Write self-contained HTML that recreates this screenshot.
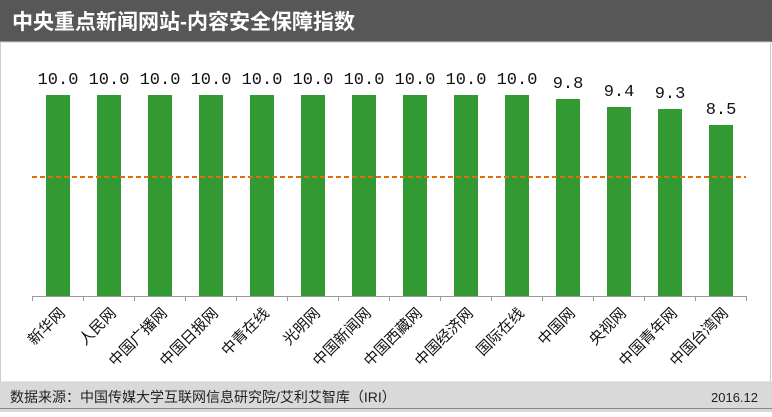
<!DOCTYPE html><html><head><meta charset="utf-8"><style>
body{margin:0;width:772px;height:412px;overflow:hidden;background:#fff;font-family:"Liberation Sans","Noto Sans CJK SC",sans-serif}
</style></head><body>
<svg width="772" height="412" xmlns="http://www.w3.org/2000/svg" font-family="Liberation Sans, Noto Sans CJK SC, sans-serif">
<rect x="0" y="0" width="772" height="42" fill="#575757"/>
<text x="12" y="29" fill="#fff" font-size="21" font-weight="bold">中央重点新闻网站-内容安全保障指数</text>
<rect x="0.5" y="42" width="770" height="340" fill="#fff" stroke="#ccc"/>
<line x1="32" y1="296.5" x2="747" y2="296.5" stroke="#999"/>
<g fill="#339933">
<rect x="46" y="95" width="24" height="201"/>
<rect x="97" y="95" width="24" height="201"/>
<rect x="148" y="95" width="24" height="201"/>
<rect x="199" y="95" width="24" height="201"/>
<rect x="250" y="95" width="24" height="201"/>
<rect x="301" y="95" width="24" height="201"/>
<rect x="352" y="95" width="24" height="201"/>
<rect x="403" y="95" width="24" height="201"/>
<rect x="454" y="95" width="24" height="201"/>
<rect x="505" y="95" width="24" height="201"/>
<rect x="556" y="99" width="24" height="197"/>
<rect x="607" y="107" width="24" height="189"/>
<rect x="658" y="109" width="24" height="187"/>
<rect x="709" y="125" width="24" height="171"/>
</g>
<g font-size="17" text-anchor="middle" fill="#111" font-family="Liberation Mono, monospace">
<text x="58" y="84">10.0</text>
<text x="109" y="84">10.0</text>
<text x="160" y="84">10.0</text>
<text x="211" y="84">10.0</text>
<text x="262" y="84">10.0</text>
<text x="313" y="84">10.0</text>
<text x="364" y="84">10.0</text>
<text x="415" y="84">10.0</text>
<text x="466" y="84">10.0</text>
<text x="517" y="84">10.0</text>
<text x="568" y="88">9.8</text>
<text x="619" y="96">9.4</text>
<text x="670" y="98">9.3</text>
<text x="721" y="114">8.5</text>
</g>
<g stroke="#999">
<line x1="32.5" y1="296" x2="32.5" y2="301"/><line x1="83.5" y1="296" x2="83.5" y2="301"/>
<line x1="134.5" y1="296" x2="134.5" y2="301"/><line x1="185.5" y1="296" x2="185.5" y2="301"/>
<line x1="236.5" y1="296" x2="236.5" y2="301"/><line x1="287.5" y1="296" x2="287.5" y2="301"/>
<line x1="338.5" y1="296" x2="338.5" y2="301"/><line x1="389.5" y1="296" x2="389.5" y2="301"/>
<line x1="440.5" y1="296" x2="440.5" y2="301"/><line x1="491.5" y1="296" x2="491.5" y2="301"/>
<line x1="542.5" y1="296" x2="542.5" y2="301"/><line x1="593.5" y1="296" x2="593.5" y2="301"/>
<line x1="644.5" y1="296" x2="644.5" y2="301"/><line x1="695.5" y1="296" x2="695.5" y2="301"/>
<line x1="746.5" y1="296" x2="746.5" y2="301"/>
</g>
<line x1="32" y1="177" x2="746" y2="177" stroke="#e46c0a" stroke-width="2" stroke-dasharray="5,3"/>
<g font-size="15" text-anchor="end" fill="#111">
<text transform="translate(66,314) rotate(-45)">新华网</text>
<text transform="translate(117,314) rotate(-45)">人民网</text>
<text transform="translate(168,314) rotate(-45)">中国广播网</text>
<text transform="translate(219,314) rotate(-45)">中国日报网</text>
<text transform="translate(270,314) rotate(-45)">中青在线</text>
<text transform="translate(321,314) rotate(-45)">光明网</text>
<text transform="translate(372,314) rotate(-45)">中国新闻网</text>
<text transform="translate(423,314) rotate(-45)">中国西藏网</text>
<text transform="translate(474,314) rotate(-45)">中国经济网</text>
<text transform="translate(525,314) rotate(-45)">国际在线</text>
<text transform="translate(576,314) rotate(-45)">中国网</text>
<text transform="translate(627,314) rotate(-45)">央视网</text>
<text transform="translate(678,314) rotate(-45)">中国青年网</text>
<text transform="translate(729,314) rotate(-45)">中国台湾网</text>
</g>
<rect x="0" y="382" width="772" height="30" fill="#d9d9d9"/>
<line x1="0" y1="408.5" x2="772" y2="408.5" stroke="#888"/>
<text x="10" y="402" font-size="14" fill="#222">数据来源：中国传媒大学互联网信息研究院/艾利艾智库（IRI）</text>
<text x="758" y="402" font-size="13" fill="#222" text-anchor="end">2016.12</text>
</svg>
</body></html>
